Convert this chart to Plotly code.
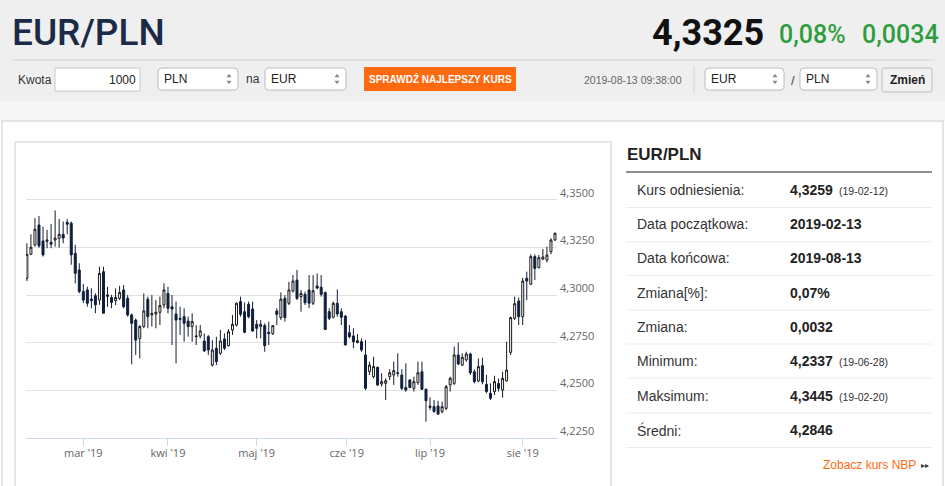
import pandas as pd
import plotly.graph_objects as go

# ---------------- data ----------------
DATES = pd.bdate_range("2019-02-11", "2019-08-13").strftime("%Y-%m-%d").tolist()

OPEN = [4.3089, 4.3215, 4.3264, 4.3369, 4.3285, 4.3283, 4.3278, 4.3290, 4.3299, 4.3320,
        4.3383, 4.3378, 4.3220, 4.3133, 4.3020, 4.3028, 4.2980, 4.2998, 4.2975, 4.3124,
        4.2994, 4.2988, 4.2972, 4.2984, 4.3028, 4.2984, 4.2897, 4.2870, 4.2774, 4.2836,
        4.2979, 4.2897, 4.2902, 4.2911, 4.2949, 4.3010, 4.2940, 4.2902, 4.2879, 4.2888,
        4.2865, 4.2836, 4.2783, 4.2786, 4.2760, 4.2783, 4.2634, 4.2722, 4.2696, 4.2771,
        4.2736, 4.2818, 4.2844, 4.2967, 4.2914, 4.2953, 4.2928, 4.2848, 4.2836, 4.2841,
        4.2806, 4.2799, 4.2918, 4.2883, 4.2984, 4.2958, 4.3022, 4.3080, 4.2993, 4.3005,
        4.3028, 4.2958, 4.3049, 4.3042, 4.3015, 4.2914, 4.2885, 4.2958, 4.2914, 4.2891,
        4.2804, 4.2787, 4.2752, 4.2757, 4.2687, 4.2600, 4.2573, 4.2622, 4.2535, 4.2538,
        4.2573, 4.2582, 4.2594, 4.2582, 4.2517, 4.2556, 4.2512, 4.2542, 4.2599, 4.2507,
        4.2412, 4.2416, 4.2419, 4.2390, 4.2407, 4.2530, 4.2538, 4.2687, 4.2634, 4.2661,
        4.2692, 4.2599, 4.2551, 4.2631, 4.2533, 4.2486, 4.2495, 4.2537, 4.2503, 4.2551,
        4.2701, 4.2879, 4.2970, 4.2888, 4.3089, 4.3058, 4.3203, 4.3145, 4.3190, 4.3185,
        4.3229, 4.3290]
HIGH = [4.3273, 4.3320, 4.3404, 4.3416, 4.3360, 4.3343, 4.3374, 4.3445, 4.3400, 4.3387,
        4.3400, 4.3387, 4.3264, 4.3168, 4.3060, 4.3045, 4.3037, 4.3010, 4.3150, 4.3150,
        4.3045, 4.3002, 4.3036, 4.3050, 4.3054, 4.3001, 4.2905, 4.2879, 4.2844, 4.3010,
        4.2993, 4.3001, 4.2975, 4.2993, 4.3063, 4.3045, 4.3001, 4.2967, 4.2940, 4.2932,
        4.2888, 4.2905, 4.2844, 4.2844, 4.2800, 4.2792, 4.2765, 4.2783, 4.2818, 4.2800,
        4.2823, 4.2897, 4.2963, 4.2993, 4.2963, 4.2967, 4.2967, 4.2870, 4.2870, 4.2853,
        4.2862, 4.2844, 4.2932, 4.3015, 4.3001, 4.3071, 4.3106, 4.3133, 4.3028, 4.3019,
        4.3106, 4.3106, 4.3115, 4.3106, 4.3019, 4.2932, 4.2967, 4.3031, 4.2932, 4.2897,
        4.2844, 4.2827, 4.2797, 4.2774, 4.2765, 4.2652, 4.2678, 4.2626, 4.2591, 4.2565,
        4.2612, 4.2652, 4.2696, 4.2612, 4.2643, 4.2559, 4.2573, 4.2652, 4.2652, 4.2512,
        4.2465, 4.2451, 4.2447, 4.2442, 4.2530, 4.2573, 4.2731, 4.2752, 4.2696, 4.2704,
        4.2699, 4.2612, 4.2669, 4.2673, 4.2582, 4.2538, 4.2578, 4.2564, 4.2599, 4.2757,
        4.2888, 4.2993, 4.2988, 4.3092, 4.3124, 4.3215, 4.3215, 4.3211, 4.3243, 4.3255,
        4.3299, 4.3330]
LOW = [4.3075, 4.3212, 4.3255, 4.3250, 4.3203, 4.3247, 4.3247, 4.3255, 4.3250, 4.3273,
       4.3320, 4.3160, 4.3063, 4.3010, 4.2960, 4.2940, 4.2932, 4.2906, 4.2950, 4.2906,
       4.2940, 4.2932, 4.2949, 4.2975, 4.2932, 4.2888, 4.2638, 4.2687, 4.2669, 4.2827,
       4.2827, 4.2836, 4.2827, 4.2844, 4.2932, 4.2905, 4.2739, 4.2643, 4.2792, 4.2757,
       4.2783, 4.2757, 4.2739, 4.2774, 4.2704, 4.2687, 4.2626, 4.2634, 4.2687, 4.2713,
       4.2731, 4.2792, 4.2836, 4.2888, 4.2801, 4.2879, 4.2809, 4.2774, 4.2774, 4.2704,
       4.2739, 4.2792, 4.2844, 4.2870, 4.2862, 4.2949, 4.3015, 4.2975, 4.2914, 4.2949,
       4.2932, 4.2949, 4.3031, 4.2993, 4.2818, 4.2870, 4.2879, 4.2888, 4.2844, 4.2739,
       4.2774, 4.2722, 4.2748, 4.2704, 4.2503, 4.2582, 4.2564, 4.2524, 4.2521, 4.2451,
       4.2556, 4.2530, 4.2573, 4.2503, 4.2495, 4.2512, 4.2495, 4.2530, 4.2503, 4.2337,
       4.2398, 4.2384, 4.2372, 4.2381, 4.2398, 4.2495, 4.2530, 4.2634, 4.2629, 4.2652,
       4.2582, 4.2538, 4.2544, 4.2533, 4.2486, 4.2451, 4.2477, 4.2495, 4.2463, 4.2547,
       4.2687, 4.2870, 4.2844, 4.2844, 4.2975, 4.3054, 4.3080, 4.3141, 4.3185, 4.3173,
       4.3215, 4.3285]
CLOSE = [4.3215, 4.3252, 4.3346, 4.3259, 4.3212, 4.3290, 4.3268, 4.3300, 4.3320, 4.3300,
         4.3373, 4.3212, 4.3115, 4.3020, 4.2975, 4.2958, 4.2972, 4.2950, 4.3115, 4.2906,
         4.3002, 4.2963, 4.2989, 4.3015, 4.2940, 4.2897, 4.2853, 4.2765, 4.2836, 4.2918,
         4.2888, 4.2905, 4.2911, 4.2946, 4.3028, 4.2932, 4.2928, 4.2870, 4.2874, 4.2853,
         4.2836, 4.2862, 4.2786, 4.2813, 4.2708, 4.2713, 4.2713, 4.2652, 4.2760, 4.2722,
         4.2809, 4.2848, 4.2958, 4.2900, 4.2806, 4.2888, 4.2813, 4.2827, 4.2848, 4.2736,
         4.2799, 4.2841, 4.2900, 4.2980, 4.2883, 4.3028, 4.3075, 4.2984, 4.3010, 4.2961,
         4.2958, 4.3024, 4.3038, 4.3005, 4.2821, 4.2879, 4.2958, 4.2902, 4.2885, 4.2739,
         4.2783, 4.2757, 4.2762, 4.2713, 4.2512, 4.2634, 4.2626, 4.2530, 4.2547, 4.2552,
         4.2594, 4.2605, 4.2591, 4.2512, 4.2503, 4.2517, 4.2547, 4.2594, 4.2507, 4.2447,
         4.2419, 4.2390, 4.2377, 4.2416, 4.2521, 4.2565, 4.2687, 4.2640, 4.2675, 4.2692,
         4.2594, 4.2547, 4.2626, 4.2547, 4.2495, 4.2460, 4.2547, 4.2512, 4.2564, 4.2608,
         4.2883, 4.2956, 4.2888, 4.3075, 4.3075, 4.3203, 4.3141, 4.3197, 4.3201, 4.3211,
         4.3290, 4.3325]

Y_TICKS = [4.225, 4.250, 4.275, 4.300, 4.325, 4.350, 4.375]
Y_LABELED = [4.225, 4.250, 4.275, 4.300, 4.325, 4.350]
MONTH_STARTS = ["2019-03-01", "2019-04-01", "2019-05-01", "2019-06-01", "2019-07-01", "2019-08-01"]
MONTH_LABELS = ["mar '19", "kwi '19", "maj '19", "cze '19", "lip '19", "sie '19"]

STATS_LABELS = ["Kurs odniesienia:", "Data początkowa:", "Data końcowa:", "Zmiana[%]:",
                "Zmiana:", "Minimum:", "Maksimum:", "Średni:"]
STATS_VALUES = ["4,3259", "2019-02-13", "2019-08-13", "0,07%", "0,0032", "4,2337", "4,3445", "4,2846"]
STATS_DATES = ["(19-02-12)", "", "", "", "", "(19-06-28)", "(19-02-20)", ""]

PAIR = "EUR/PLN"
LAST_RATE = "4,3325"
CHANGE_PCT = "0,08%"
CHANGE_ABS = "0,0034"
TIMESTAMP = "2019-08-13 09:38:00"

assert len(DATES) == len(OPEN) == len(HIGH) == len(LOW) == len(CLOSE)

# ---------------- helpers ----------------
W, H = 945, 486


def px(x):
    return x / W


def py(y):
    return 1 - y / H


SANS = "Liberation Sans, Arial, sans-serif"
OPEN_SANS = "Open Sans, sans-serif"
shapes = []
anns = []


def rect(x0, y0, x1, y1, fill, line=None, lw=1):
    shapes.append(dict(type="rect", xref="paper", yref="paper", x0=px(x0), x1=px(x1),
                       y0=py(y1), y1=py(y0), fillcolor=fill, layer="below",
                       line=dict(color=line or "rgba(0,0,0,0)", width=lw if line else 0)))


def hline(x0, x1, y, color, lw=1):
    shapes.append(dict(type="line", xref="paper", yref="paper", x0=px(x0), x1=px(x1),
                       y0=py(y), y1=py(y), line=dict(color=color, width=lw), layer="below"))


def vline(x, y0, y1, color, lw=1):
    shapes.append(dict(type="line", xref="paper", yref="paper", x0=px(x), x1=px(x),
                       y0=py(y0), y1=py(y1), line=dict(color=color, width=lw), layer="below"))


def rrect(x0, y0, x1, y1, r, fill, line, lw=1):
    P = lambda x, y: f"{px(x):.5f},{py(y):.5f}"
    d = (f"M {P(x0 + r, y0)} L {P(x1 - r, y0)} Q {P(x1, y0)} {P(x1, y0 + r)} "
         f"L {P(x1, y1 - r)} Q {P(x1, y1)} {P(x1 - r, y1)} L {P(x0 + r, y1)} "
         f"Q {P(x0, y1)} {P(x0, y1 - r)} L {P(x0, y0 + r)} Q {P(x0, y0)} {P(x0 + r, y0)} Z")
    shapes.append(dict(type="path", xref="paper", yref="paper", path=d, fillcolor=fill,
                       line=dict(color=line, width=lw), layer="below"))


def tri(cx, cy, w, h, up, color):
    P = lambda x, y: f"{px(x):.5f},{py(y):.5f}"
    if up:
        d = f"M {P(cx - w / 2, cy + h / 2)} L {P(cx + w / 2, cy + h / 2)} L {P(cx, cy - h / 2)} Z"
    else:
        d = f"M {P(cx - w / 2, cy - h / 2)} L {P(cx + w / 2, cy - h / 2)} L {P(cx, cy + h / 2)} Z"
    shapes.append(dict(type="path", xref="paper", yref="paper", path=d, fillcolor=color,
                       line=dict(width=0), layer="below"))


def text(x, y, s, size, color, anchor="left", weight="normal", family=SANS):
    anns.append(dict(x=px(x), y=py(y), xref="paper", yref="paper", text=s, showarrow=False,
                     xanchor=anchor, yanchor="middle", borderpad=0,
                     font=dict(size=size, color=color, family=family, weight=weight)))


def dropdown(x0, x1, label):
    rrect(x0, 68, x1, 90, 4, "#ffffff", "#bcbcbc")
    text(x0 + 5, 78.5, label, 12, "#222222")
    tri(x1 - 9, 75.5, 5, 3.5, True, "#8a8a8a")
    tri(x1 - 9, 82.5, 5, 3.5, False, "#8a8a8a")


# ---------------- page chrome ----------------
rect(0, 0, 945, 101, "#efefef")
rect(0, 101, 945, 121, "#f6f6f6")
rect(2, 121, 943, 492, "#ffffff", "#e4e4e4", 2)
rect(15, 142, 611, 492, "#ffffff", "#e6e6e6", 2)

text(11, 32, PAIR, 37, "#1b2a47", weight=500, family="Roboto, sans-serif")
text(651, 33, LAST_RATE, 36, "#111111", weight=700, family="Roboto, sans-serif")
text(778, 35, CHANGE_PCT, 25, "#2e9d3e", weight=500, family="Roboto, sans-serif")
text(861, 35, CHANGE_ABS, 25, "#2e9d3e", weight=500, family="Roboto, sans-serif")
hline(12, 935, 60, "#d4d4d4")

text(17, 79.5, "Kwota", 12, "#333333")
rect(55, 68, 140, 91, "#ffffff", "#c8c8c8")
text(137, 79.5, "1000", 12, "#222222", anchor="right")
dropdown(158, 238, "PLN")
text(245, 79, "na", 12, "#333333")
dropdown(265, 346, "EUR")
rect(364, 67, 516, 91, "#ff6a10")
text(440, 79, "SPRAWDŹ NAJLEPSZY KURS", 10, "#ffffff", anchor="center", weight="bold")
text(683, 80, TIMESTAMP, 10.5, "#666666", anchor="right")
vline(694, 66, 93, "#d4d4d4")
dropdown(705, 784, "EUR")
text(790, 80, "/", 13, "#444444")
dropdown(800, 877, "PLN")
rrect(882, 68, 932, 92, 2, "#f1f1f1", "#bdbdbd")
text(907, 80, "Zmień", 12, "#222222", anchor="center", weight="bold")

# ---------------- stats table ----------------
text(626, 155, PAIR, 17, "#222222", weight="bold")
hline(626, 932, 172, "#8f8f8f", 2)
ROW_Y = [190, 224.3, 258, 292.5, 326.5, 360.5, 395.5, 430]
for i, (lab, val, dt) in enumerate(zip(STATS_LABELS, STATS_VALUES, STATS_DATES)):
    yy = ROW_Y[i]
    text(636, yy, lab, 14, "#333333")
    text(789, yy, val, 14, "#222222", weight="bold")
    if dt:
        text(838, yy + 1, dt, 10.5, "#333333")
    hline(626, 932, yy + 17.5, "#ececec")
text(917, 465, "Zobacz kurs NBP", 12, "#ff6a10", anchor="right")
text(920, 465.5, "▸▸", 8, "#333333", family="DejaVu Sans")

# ---------------- month tick positions (ordinal, like the original axis) ----------------
dts = pd.to_datetime(pd.Series(DATES))
tick_pos = []
for m in MONTH_STARTS:
    mt = pd.Timestamp(m)
    j = int((dts >= mt).idxmax())
    if dts[j] == mt or j == 0:
        tick_pos.append(float(j))
    else:
        gap = (dts[j] - dts[j - 1]).days
        tick_pos.append(j - 1 + (mt - dts[j - 1]).days / gap)


def fmt(v):
    return f"{v:.4f}".replace(".", ",")


# ---------------- figure ----------------
fig = go.Figure(go.Candlestick(
    x=DATES, open=OPEN, high=HIGH, low=LOW, close=CLOSE,
    increasing=dict(fillcolor="#ffffff", line=dict(color="#1a1a1a", width=1)),
    decreasing=dict(fillcolor="#0f1e3b", line=dict(color="#0f1e3b", width=1)),
    whiskerwidth=0, hoverinfo="none", showlegend=False,
))

fig.update_layout(
    width=W, height=H, margin=dict(l=0, r=0, t=0, b=0),
    paper_bgcolor="#ffffff", plot_bgcolor="rgba(0,0,0,0)",
    shapes=shapes, annotations=anns, showlegend=False,
    xaxis=dict(type="category", domain=[px(26), px(557)], range=[-0.22, len(DATES) - 0.5],
               rangeslider=dict(visible=False), showgrid=False, zeroline=False,
               showline=True, linecolor="#ccd6eb", linewidth=1,
               ticks="outside", ticklen=7, tickcolor="#ccd6eb", tickwidth=1,
               tickmode="array", tickvals=tick_pos, ticktext=MONTH_LABELS,
               ticklabelstandoff=-3,
               tickfont=dict(family=OPEN_SANS, size=11, color="#666666")),
    yaxis=dict(side="right", domain=[py(438.3), py(152.3)], range=[4.225, 4.375],
               tickmode="array", tickvals=Y_TICKS,
               ticktext=[fmt(v) if v in Y_LABELED else "" for v in Y_TICKS],
               showgrid=True, gridcolor="#e0e0e0", gridwidth=1, zeroline=False,
               showline=False, ticks="", ticklabelshift=-7, ticklabelstandoff=2,
               tickfont=dict(family=OPEN_SANS, size=11, color="#666666")),
)

fig.write_html(
    "out.html",
    config={"displayModeBar": False},
    post_script=("document.body.style.margin='0';document.body.style.padding='0';"
                 "document.documentElement.style.overflow='hidden';"
                 "document.body.style.overflow='hidden';"),
)
